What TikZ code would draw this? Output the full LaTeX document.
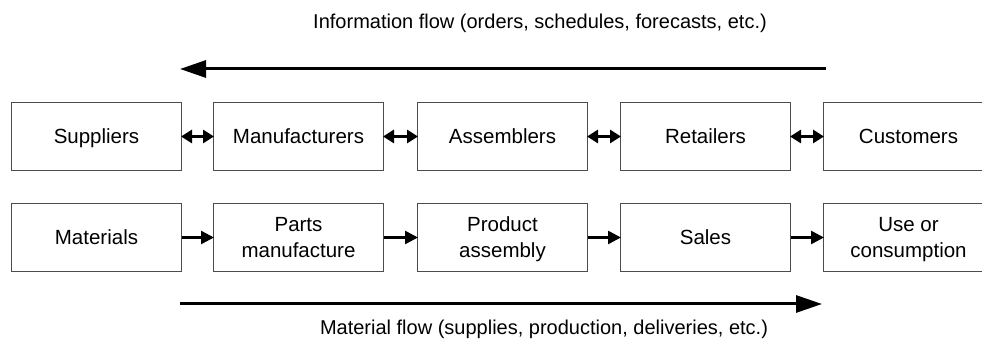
\documentclass[tikz,border=0pt]{standalone}
\usepackage{fontspec}
\setmainfont{Liberation Sans}
\usetikzlibrary{arrows.meta}
\begin{document}
\begin{tikzpicture}[x=1pt,y=-1pt,
  box/.style={draw=black!70,line width=1pt,minimum width=170pt,minimum height=68pt,inner sep=0pt,align=center,font=\fontsize{20.5}{26}\selectfont,anchor=north west,text depth=0pt,execute at begin node={\vphantom{A}}},
  dbl/.style={line width=3pt,{Triangle[length=11pt,width=13pt]}-{Triangle[length=11pt,width=13pt]},shorten <=-1pt,shorten >=-1pt},
  sgl/.style={line width=2.5pt,-{Triangle[length=13pt,width=13pt]},shorten >=-1pt},
  flow/.style={line width=3pt,-{Triangle[length=26pt,width=17pt]}},
  lbl/.style={font=\fontsize{20}{24}\selectfont}]
\useasboundingbox (0,0) rectangle (982,344);
\begin{scope}
\clip (0,0) rectangle (982,344);
\node[box] (s) at (11,102) {Suppliers};
\node[box] (m) at (213,102) {Manufacturers};
\node[box] (a) at (417,102) {Assemblers};
\node[box] (r) at (620,102) {Retailers};
\node[box] (c) at (823,102) {Customers};
\node[box] (s2) at (11,203) {Materials};
\node[box] (m2) at (213,203) {Parts\\manufacture};
\node[box] (a2) at (417,203) {Product\\assembly};
\node[box] (r2) at (620,203) {Sales};
\node[box] (c2) at (823,203) {Use or\\consumption};
\end{scope}
\node[lbl] (tl) at (540,23) {Information flow (orders, schedules, forecasts, etc.)};
\node[lbl] (bl) at (544,329) {Material flow (supplies, production, deliveries, etc.)};
\coordinate (t1) at (826,69);
\coordinate (t2) at (180,69);
\coordinate (b1) at (180,304);
\coordinate (b2) at (822,304);
\draw[flow] (t1) -- (t2);
\draw[flow] (b1) -- (b2);
\draw[dbl] (s.east) -- (m.west);
\draw[dbl] (m.east) -- (a.west);
\draw[dbl] (a.east) -- (r.west);
\draw[dbl] (r.east) -- (c.west);
\draw[sgl] (s2.east) -- (m2.west);
\draw[sgl] (m2.east) -- (a2.west);
\draw[sgl] (a2.east) -- (r2.west);
\draw[sgl] (r2.east) -- (c2.west);
\end{tikzpicture}
\end{document}
